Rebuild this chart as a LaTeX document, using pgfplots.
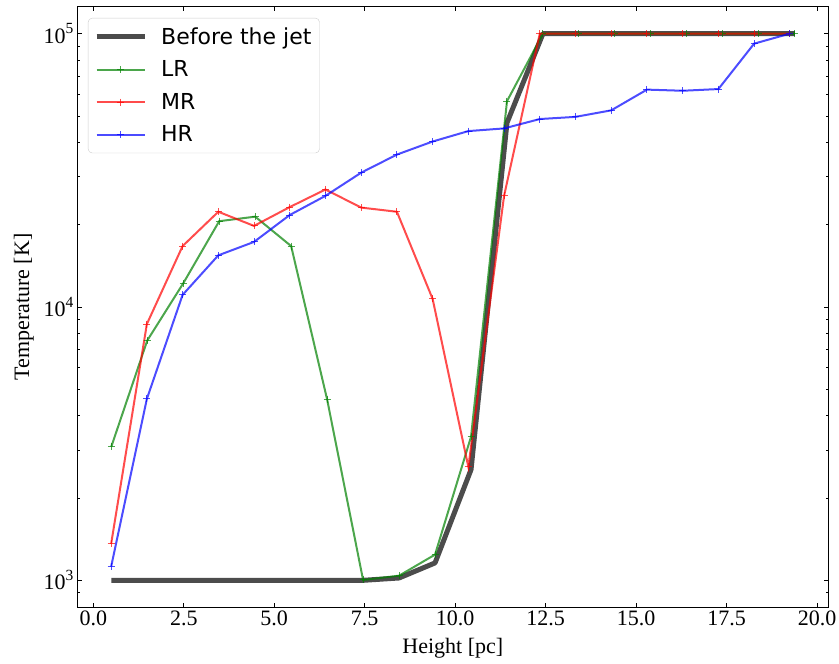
\documentclass[border=0pt]{standalone}
\usepackage{fontspec}
\setmainfont{Liberation Serif}
\newfontfamily\dejavu{DejaVu Sans}
\usepackage{pgfplots}
\pgfplotsset{compat=1.18}
\definecolor{mgreen}{RGB}{0,128,0}
\definecolor{mred}{RGB}{255,0,0}
\definecolor{mblue}{RGB}{0,0,255}
\newcommand{\sups}[1]{\raisebox{0.42em}{\fontsize{15.5}{18}\selectfont #1}}
\begin{document}
\begin{tikzpicture}[x=1pt,y=1pt,font=\fontsize{22}{26}\selectfont]
\useasboundingbox (0,0) rectangle (839,664);
\begin{axis}[
  at={(77pt,56.3pt)}, anchor=south west, scale only axis,
  width=751.7pt, height=601.4pt,
  xmin=-0.45, xmax=20.32,
  ymode=log, ymin=794.3, ymax=125893,
  xtick={0,2.5,5,7.5,10,12.5,15,17.5,20},
  /pgf/number format/assume math mode=true,
  xticklabel style={/pgf/number format/fixed,/pgf/number format/fixed zerofill,/pgf/number format/precision=1},
  ytick={1000,10000,100000},
  yticklabels={10\sups{3},10\sups{4},10\sups{5}},
  minor ytick={900,2000,3000,4000,5000,6000,7000,8000,9000,20000,30000,40000,50000,60000,70000,80000,90000},
  tick align=inside, tick pos=both,
  major tick length=4.5pt, minor tick length=2.5pt,
  every tick/.style={black, line width=0.8pt},
  axis line style={line width=1pt},
  xlabel={Height [pc]}, ylabel={Temperature [K]},
  xlabel style={yshift=-5pt}, ylabel style={yshift=3pt},
  legend cell align=left,
  legend style={at={(0.0146,0.9806)}, anchor=north west, draw=black!20, rounded corners=4pt,
    fill=white, fill opacity=0.8, text opacity=1, font=\dejavu\fontsize{22}{26}\selectfont,
    inner xsep=6pt, inner ysep=7.5pt, row sep=11pt,
    /tikz/every odd column/.append style={column sep=12pt}},
  legend image code/.code={\draw[mark repeat=2,mark phase=2] plot coordinates {(0pt,0pt) (24pt,0pt) (48pt,0pt)};},
]
\addplot[black, draw opacity=0.7, line width=5pt, line join=round] coordinates {
(0.497,1000) (1.491,1000) (2.485,1000) (3.479,1000) (4.473,1000) (5.467,1000) (6.461,1000) (7.455,1000)
(8.449,1020) (9.443,1158) (10.437,2540) (11.431,47200) (12.425,100000) (13.419,100000) (14.413,100000)
(15.407,100000) (16.401,100000) (17.395,100000) (18.389,100000) (19.383,100000)};
\addlegendentry{Before the jet}
\addplot[mgreen, draw opacity=0.7, line width=2pt, mark=+, mark size=3.5pt, mark options={line width=1pt}] coordinates {
(0.497,3080) (1.491,7540) (2.485,12200) (3.479,20600) (4.473,21400) (5.467,16700) (6.461,4590) (7.455,1003)
(8.449,1040) (9.443,1242) (10.437,3350) (11.431,56600) (12.425,100000) (13.419,100000) (14.413,100000)
(15.407,100000) (16.401,100000) (17.395,100000) (18.389,100000) (19.383,100000)};
\addlegendentry{LR}
\addplot[mred, draw opacity=0.7, line width=2pt, mark=+, mark size=3.5pt, mark options={line width=1pt}] coordinates {
(0.4935,1360) (1.4805,8660) (2.4675,16700) (3.4545,22300) (4.4415,19800) (5.4285,23200) (6.4155,26900)
(7.4025,23100) (8.3895,22300) (9.3765,10700) (10.3635,2600) (11.3505,25500) (12.3375,100000) (13.3245,100000)
(14.3115,100000) (15.2985,100000) (16.2855,100000) (17.2725,100000) (18.2595,100000) (19.2465,100000)};
\addlegendentry{MR}
\addplot[mblue, draw opacity=0.7, line width=2pt, mark=+, mark size=3.5pt, mark options={line width=1pt}] coordinates {
(0.4935,1122) (1.4805,4610) (2.4675,11070) (3.4545,15450) (4.4415,17300) (5.4285,21700) (6.4155,25500)
(7.4025,31000) (8.3895,36100) (9.3765,40300) (10.3635,44000) (11.3505,45000) (12.3375,48700) (13.3245,49600)
(14.3115,52400) (15.2985,62400) (16.2855,61800) (17.2725,62700) (18.2595,91900) (19.2465,100000)};
\addlegendentry{HR}
\end{axis}
\end{tikzpicture}
\end{document}
